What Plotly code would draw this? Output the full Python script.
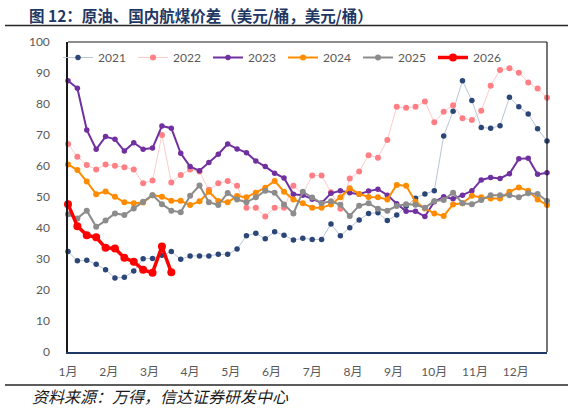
import plotly.graph_objects as go

months = ["1月", "2月", "3月", "4月", "5月", "6月", "7月", "8月", "9月", "10月", "11月", "12月"]

y2021 = [32.4, 29.4, 29.6, 28.3, 26.5, 23.9, 24.1, 26.1, 30.1, 30.2, 31.2, 32.4, 29.9, 31.0,
         31.0, 31.0, 31.5, 31.5, 33.2, 37.5, 38.3, 36.5, 38.8, 37.7, 36.1, 36.7, 36.3, 36.3,
         41.3, 37.5, 40.1, 42.6, 44.7, 44.9, 42.4, 44.2, 47.0, 49.6, 51.0, 52.0, 69.7, 77.7,
         87.5, 81.1, 72.4, 72.2, 73.0, 82.2, 79.1, 76.8, 72.0, 68.1]
y2022 = [67.1, 63.0, 60.3, 58.9, 60.5, 60.1, 59.6, 58.9, 54.4, 55.3, 70.0, 54.7, 57.1, 58.9,
         58.2, 52.3, 54.4, 55.2, 53.6, 46.5, 46.5, 43.7, 46.5, 46.5, 53.6, 51.0, 56.9, 56.9,
         51.5, 46.2, 56.0, 58.2, 63.5, 62.7, 68.4, 79.1, 78.8, 79.1, 80.8, 74.1, 77.5, 79.6,
         75.4, 74.8, 77.8, 85.9, 91.0, 91.5, 90.1, 86.9, 85.0, 82.0]
y2023 = [87.5, 85.1, 71.6, 65.4, 69.5, 68.6, 64.8, 67.5, 65.4, 65.8, 72.9, 72.2, 64.1, 59.8,
         58.5, 61.1, 63.8, 67.1, 65.5, 64.3, 61.6, 59.8, 57.7, 56.1, 50.9, 50.6, 49.3, 48.1,
         51.2, 52.0, 51.4, 50.9, 51.9, 52.5, 50.6, 47.8, 45.4, 45.4, 43.7, 48.5, 50.1, 49.4,
         50.6, 52.0, 55.5, 56.3, 56.0, 57.5, 62.3, 62.5, 57.3, 57.8]
y2024 = [60.5, 58.7, 55.0, 50.9, 51.8, 50.1, 48.3, 48.0, 48.2, 50.6, 50.1, 48.8, 48.8, 47.4,
         48.6, 51.7, 48.7, 48.3, 50.3, 49.9, 51.4, 53.0, 55.2, 51.7, 49.2, 48.0, 46.5, 46.5,
         47.6, 49.9, 52.8, 51.0, 50.0, 49.9, 49.2, 53.9, 53.6, 48.5, 46.3, 44.7, 43.9, 47.6,
         48.0, 50.4, 49.9, 49.5, 49.5, 51.7, 53.1, 52.0, 49.2, 47.4]
y2025 = [44.4, 43.1, 45.6, 40.4, 42.4, 44.7, 44.2, 46.3, 48.5, 50.6, 47.7, 45.6, 45.1, 50.4,
         53.7, 48.3, 47.4, 51.3, 49.2, 48.3, 49.9, 52.0, 51.4, 47.6, 44.7, 51.7, 49.8, 48.0,
         48.6, 47.5, 43.9, 47.2, 48.0, 46.2, 45.6, 47.1, 47.7, 47.5, 46.5, 48.7, 49.0, 51.4,
         48.0, 47.7, 49.0, 50.6, 50.6, 50.6, 49.9, 51.2, 51.0, 48.7]
y2026 = [47.7, 40.6, 37.7, 37.0, 33.6, 33.4, 30.4, 29.1, 26.5, 25.6, 34.0, 25.7]

series = [
    ("2021", y2021, "#2B4677", "#B9C4D8", 1.0, 5.5),
    ("2022", y2022, "#FF7F84", "#FFCACA", 1.0, 6),
    ("2023", y2023, "#7030A0", "#7030A0", 2.0, 5.5),
    ("2024", y2024, "#FF8C00", "#FF8C00", 2.0, 6),
    ("2025", y2025, "#8C8C8C", "#8C8C8C", 2.0, 6),
    ("2026", y2026, "#FF0000", "#FF0000", 3.5, 8),
]

fig = go.Figure()
for name, ys, mcol, lcol, lw, ms in series:
    fig.add_trace(go.Scatter(
        x=list(range(len(ys))), y=ys, name=name, mode="lines+markers",
        line=dict(color=lcol, width=lw),
        marker=dict(color=mcol, size=ms, line=dict(width=0)),
        cliponaxis=False,
    ))

font_main = "Lato, Noto Sans CJK SC, sans-serif"
n_weeks = 52
W, H = 573, 410
L, R, T, B = 68, 26, 42, 58
PW, PH = W - L - R, H - T - B


def px_x(px):
    return (px - L) / PW


def px_y(py):
    return (H - B - py) / PH


fig.update_layout(
    width=W, height=H,
    margin=dict(l=L, r=R, t=T, b=B, autoexpand=False),
    paper_bgcolor="white", plot_bgcolor="white",
    font=dict(family=font_main, size=12, color="#595959"),
    showlegend=True,
    legend=dict(orientation="h", xref="container", yref="container",
                x=58 / W, xanchor="left", y=1 - 43 / H, yanchor="top",
                bgcolor="rgba(0,0,0,0)", font=dict(size=12, color="#595959"),
                entrywidth=30, entrywidthmode="pixels", itemwidth=30),
    xaxis=dict(range=[0, n_weeks - 1], showgrid=False, zeroline=False,
               tickmode="array",
               tickvals=[m * n_weeks / 12 for m in range(12)],
               ticktext=months, ticks="", showline=True, linecolor="#1F3864",
               linewidth=1.5, ticklabelstandoff=8),
    yaxis=dict(range=[0, 100], dtick=10, showgrid=False, zeroline=False,
               ticks="", showline=True, linecolor="#1A1A1A", linewidth=1.5,
               ticklabelstandoff=14),
)

# plot-area border (top and right)
fig.add_shape(type="line", xref="paper", yref="paper", x0=0, x1=1, y0=1, y1=1,
              line=dict(color="#1A1A1A", width=1.2))
fig.add_shape(type="line", xref="paper", yref="paper", x0=1, x1=1, y0=0, y1=1,
              line=dict(color="#1A1A1A", width=1.2))

# title and rules
fig.add_annotation(text="<b>图 12：原油、国内航煤价差（美元/桶，美元/桶）</b>",
                   xref="paper", yref="paper", x=px_x(27), y=px_y(15),
                   xanchor="left", yanchor="middle", showarrow=False,
                   font=dict(family="Noto Sans CJK SC, sans-serif", size=15.5, color="#1F3864"))
fig.add_shape(type="line", xref="paper", yref="paper",
              x0=px_x(5), x1=px_x(568), y0=px_y(25.5), y1=px_y(25.5),
              line=dict(color="#262626", width=1.5))
fig.add_shape(type="line", xref="paper", yref="paper",
              x0=px_x(5), x1=px_x(568), y0=px_y(385), y1=px_y(385),
              line=dict(color="#262626", width=1.5))
fig.add_annotation(text="资料来源：万得，信达证券研发中心",
                   xref="paper", yref="paper", x=px_x(30), y=px_y(396),
                   xanchor="left", yanchor="middle", showarrow=False,
                   font=dict(family="Noto Sans CJK SC, sans-serif", size=16,
                             color="#1A1A1A", style="italic"))

fig.write_html("out.html", config={"displayModeBar": False},
               post_script="document.body.style.margin='0';")
